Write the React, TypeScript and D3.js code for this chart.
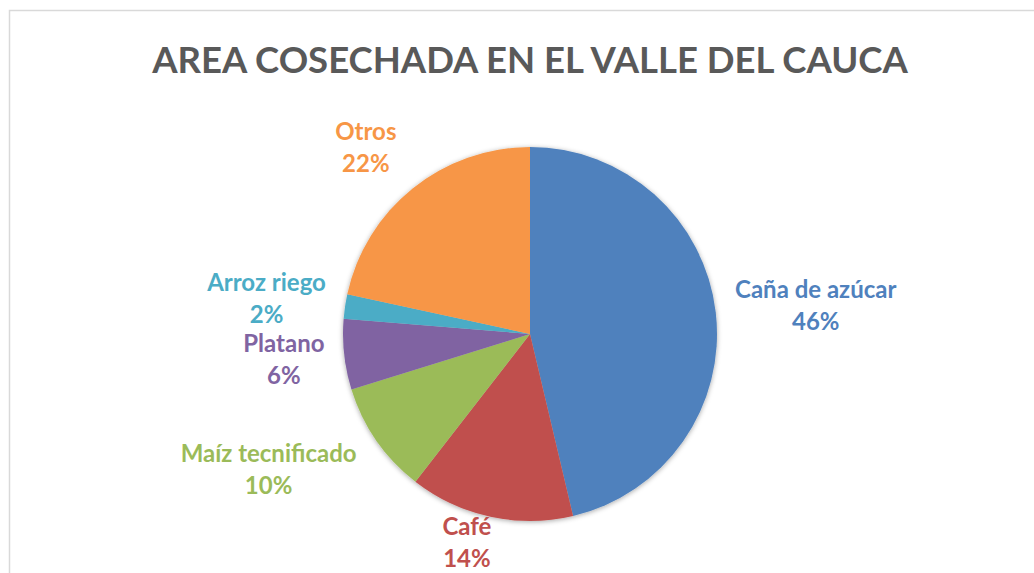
import React, { useEffect, useRef } from 'react';
import * as d3 from 'd3';

// Data (share of harvested area, %)
const categories = ['Caña de azúcar', 'Café', 'Maíz tecnificado', 'Platano', 'Arroz riego', 'Otros'];
const shares = [46.3, 14.2, 9.7, 6.1, 2.1, 21.6];
const colors = ['#4F81BD', '#C0504D', '#9BBB59', '#8064A2', '#4BACC6', '#F79646'];
const title = 'AREA COSECHADA EN EL VALLE DEL CAUCA';

// small label nudges (Excel best-fit placement), layout only
const labelNudge: Record<string, number> = { 'Maíz tecnificado': -19, 'Otros': -15, 'Café': -14 };

const W = 1034;
const H = 573;
const FONT = 'Lato, "Open Sans", sans-serif';

export default function App() {
    const svgRef = useRef<SVGSVGElement>(null);

    useEffect(() => {
        if (!svgRef.current) return;
        const svg = d3.select(svgRef.current);
        svg.selectAll('*').remove();

        const cx = 530;
        const cy = 334;
        const r = 187;

        const defs = svg.append('defs');
        const f = defs.append('filter').attr('id', 'pieShadow')
            .attr('x', '-10%').attr('y', '-10%').attr('width', '120%').attr('height', '120%');
        f.append('feDropShadow').attr('dx', 0).attr('dy', 1).attr('stdDeviation', 2.5)
            .attr('flood-color', '#000').attr('flood-opacity', 0.35);

        // chart area frame
        svg.append('rect')
            .attr('x', 9.5).attr('y', 10.5)
            .attr('width', W + 20).attr('height', H + 20)
            .attr('fill', '#fff').attr('stroke', '#d9d9d9').attr('stroke-width', 1.5);

        // Title
        svg.append('text')
            .attr('x', cx).attr('y', 73)
            .attr('text-anchor', 'middle')
            .attr('font-family', FONT)
            .attr('font-weight', 'bold')
            .attr('font-size', '36.5px')
            .attr('fill', '#595959')
            .text(title);

        const data = categories.map((c, i) => ({ label: c, value: shares[i], color: colors[i] }));
        const total = d3.sum(data, d => d.value);

        const pie = d3.pie<typeof data[0]>().sort(null).value(d => d.value);
        const arcs = pie(data);
        const arc = d3.arc<d3.PieArcDatum<typeof data[0]>>().innerRadius(0).outerRadius(r);

        const g = svg.append('g').attr('transform', `translate(${cx},${cy})`);
        g.append('g').attr('filter', 'url(#pieShadow)')
            .selectAll('path')
            .data(arcs)
            .join('path')
            .attr('d', arc)
            .attr('fill', d => d.data.color);

        // Labels: outside end, two lines
        const rLab = r + 20;
        const boxH = 64;
        const fs = '24px';
        arcs.forEach(a => {
            const lg = g.append('g');
            const t1 = lg.append('text')
                .attr('text-anchor', 'middle')
                .attr('font-family', FONT).attr('font-weight', 'bold').attr('font-size', fs)
                .attr('fill', a.data.color)
                .attr('y', -8)
                .text(a.data.label);
            const t2 = lg.append('text')
                .attr('text-anchor', 'middle')
                .attr('font-family', FONT).attr('font-weight', 'bold').attr('font-size', fs)
                .attr('fill', a.data.color)
                .attr('y', 24)
                .text(`${Math.round(a.data.value / total * 100)}%`);
            const w = Math.max(
                (t1.node() as SVGTextElement).getComputedTextLength(),
                (t2.node() as SVGTextElement).getComputedTextLength()
            );
            const th = (a.startAngle + a.endAngle) / 2;
            const s = Math.sin(th);
            const c = -Math.cos(th);
            const x = rLab * s + s * w / 2 + (labelNudge[a.data.label] || 0);
            let y = rLab * c + c * boxH / 2;
            y = Math.min(y, H - 30 - cy);
            lg.attr('transform', `translate(${x},${y})`);
        });
    }, []);

    return (
        <svg
            ref={svgRef}
            width={W}
            height={H}
            viewBox={`0 0 ${W} ${H}`}
            style={{ position: 'absolute', left: 0, top: 0, background: '#fff' }}
        />
    );
}
